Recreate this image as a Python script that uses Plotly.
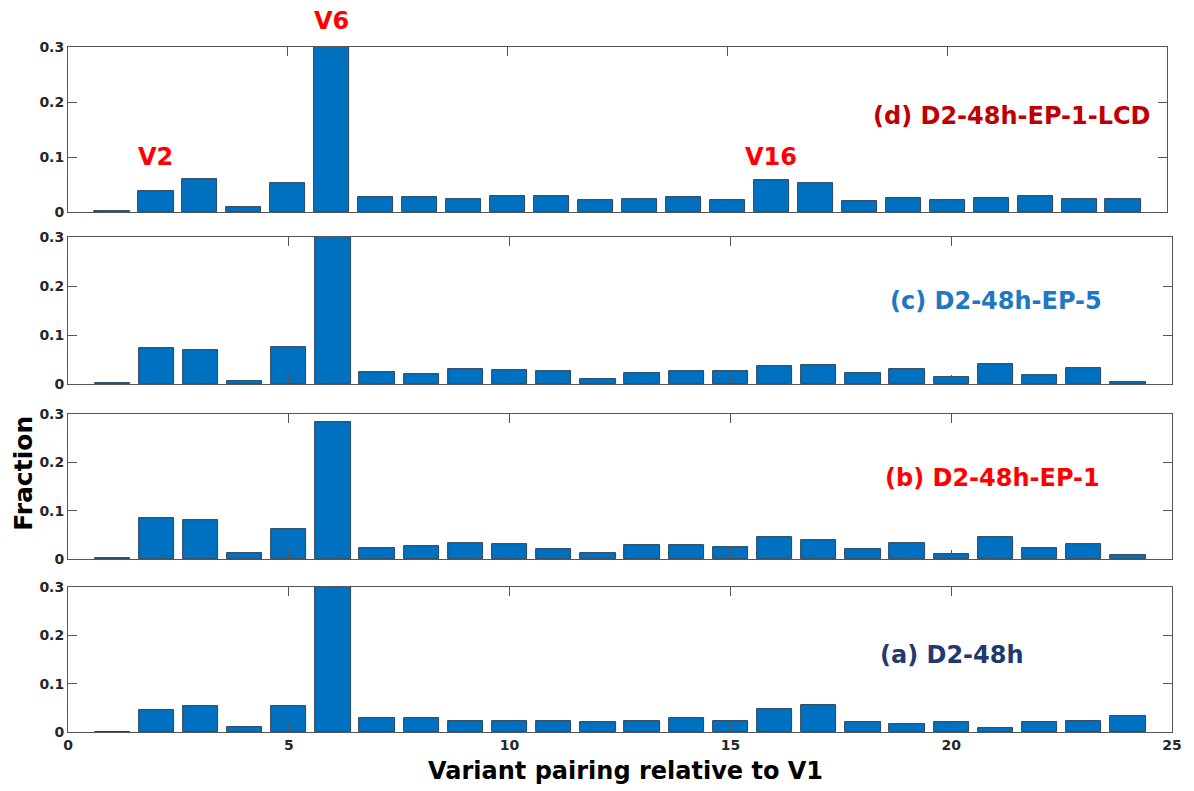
import plotly.graph_objects as go

# ---------------- data ----------------
variants = list(range(1, 25))
frac_a = [0.001, 0.045, 0.053, 0.010, 0.053, 0.31, 0.028, 0.028, 0.023, 0.022, 0.022, 0.020,
          0.023, 0.028, 0.022, 0.048, 0.056, 0.021, 0.017, 0.021, 0.008, 0.021, 0.023, 0.033]
frac_b = [0.001, 0.085, 0.080, 0.013, 0.062, 0.283, 0.022, 0.027, 0.032, 0.030, 0.021, 0.012,
          0.028, 0.028, 0.024, 0.045, 0.040, 0.021, 0.033, 0.011, 0.045, 0.022, 0.030, 0.008]
frac_c = [0.003, 0.073, 0.069, 0.007, 0.076, 0.31, 0.024, 0.021, 0.030, 0.029, 0.027, 0.010,
          0.022, 0.026, 0.027, 0.037, 0.038, 0.022, 0.031, 0.014, 0.041, 0.019, 0.032, 0.004]
frac_d = [0.001, 0.039, 0.060, 0.010, 0.053, 0.31, 0.028, 0.028, 0.024, 0.030, 0.030, 0.021,
          0.024, 0.028, 0.022, 0.058, 0.052, 0.020, 0.026, 0.022, 0.025, 0.029, 0.024, 0.023]

panel_labels = ["(a) D2-48h", "(b) D2-48h-EP-1", "(c) D2-48h-EP-5", "(d) D2-48h-EP-1-LCD"]
panel_colors = ["#1F3A6E", "#FF0000", "#1F78C1", "#C00000"]
x_ticks = [0, 5, 10, 15, 20, 25]
y_ticks = [0, 0.1, 0.2, 0.3]
y_ticktext = ["0", "0.1", "0.2", "0.3"]
peak_labels = ["V2", "V16"]
peak_x = [2, 16]
peak_y = [0.1, 0.1]
top_label = "V6"
top_label_x = 6

x_title = "Variant pairing relative to V1"
y_title = "Fraction"

# ---------------- figure ----------------
FONT = "DejaVu Sans"
BAR_COLOR = "#0070C0"
AXIS_COLOR = "#555555"

series = [frac_a, frac_b, frac_c, frac_d]
y_domains = [[0.0, 0.2117], [0.2526, 0.4642], [0.5080, 0.7226], [0.7591, 1.0]]
x_domains = [[0, 1], [0, 1], [0, 1], [0, 0.9955]]

fig = go.Figure()
for i, vals in enumerate(series):
    sfx = "" if i == 0 else str(i + 1)
    fig.add_trace(go.Bar(
        x=variants, y=vals, width=0.8,
        marker=dict(color=BAR_COLOR, line=dict(color="#1a2a3a", width=0.8)),
        xaxis="x" + sfx, yaxis="y" + sfx, showlegend=False,
    ))

tickfont = dict(family=FONT, size=14, color="#262626", weight="bold")
layout = dict(
    width=1194, height=791,
    margin=dict(l=68, r=17, t=47, b=59),
    plot_bgcolor="white", paper_bgcolor="white",
    bargap=0,
)
for i in range(4):
    sfx = "" if i == 0 else str(i + 1)
    layout["xaxis" + sfx] = dict(
        domain=x_domains[i], range=[0, 25], anchor="y" + sfx,
        tickvals=x_ticks, ticks="inside", ticklen=9, tickcolor=AXIS_COLOR,
        showline=True, linecolor=AXIS_COLOR, linewidth=1, mirror="ticks",
        showgrid=False, zeroline=False, showticklabels=(i == 0),
        tickfont=tickfont,
    )
    layout["yaxis" + sfx] = dict(
        domain=y_domains[i], range=[0, 0.3], anchor="x" + sfx,
        tickvals=y_ticks, ticktext=y_ticktext, ticks="inside", ticklen=9,
        tickcolor=AXIS_COLOR, showline=True, linecolor=AXIS_COLOR, linewidth=1,
        mirror="ticks", showgrid=False, zeroline=False, tickfont=tickfont,
    )
fig.update_layout(**layout)

annotations = []
# panel labels
label_x = [956, 997, 1000, 1016]
label_y = [0.159, 0.168, 0.169, 0.175]
for i in range(4):
    sfx = "" if i == 0 else str(i + 1)
    annotations.append(dict(
        text=panel_labels[i], xref="paper", x=(label_x[i] - 68) / 1109,
        yref="y" + sfx, y=label_y[i], xanchor="center", yanchor="middle",
        showarrow=False, font=dict(family=FONT, size=24, color=panel_colors[i], weight="bold"),
    ))
# peak labels on top panel
for lab, px, py in zip(peak_labels, peak_x, peak_y):
    annotations.append(dict(
        text=lab, xref="x4", yref="y4", x=px, y=py, xanchor="center", yanchor="middle",
        showarrow=False, font=dict(family=FONT, size=24, color="#FF0000", weight="bold"),
    ))
annotations.append(dict(
    text=top_label, xref="x4", yref="paper", x=top_label_x, y=1.038,
    xanchor="center", yanchor="middle", showarrow=False,
    font=dict(family=FONT, size=24, color="#FF0000", weight="bold"),
))
# axis titles
annotations.append(dict(
    text=x_title, xref="paper", yref="paper", x=0.5054, y=-0.057,
    xanchor="center", yanchor="middle", showarrow=False,
    font=dict(family=FONT, size=24, color="black", weight="bold"),
))
annotations.append(dict(
    text=y_title, xref="paper", yref="paper", x=-0.041, y=0.378, textangle=-90,
    xanchor="center", yanchor="middle", showarrow=False,
    font=dict(family=FONT, size=25, color="black", weight="bold"),
))
fig.update_layout(annotations=annotations)

fig.write_html("out.html", config={"displayModeBar": False},
               post_script="document.body.style.margin='0';")
